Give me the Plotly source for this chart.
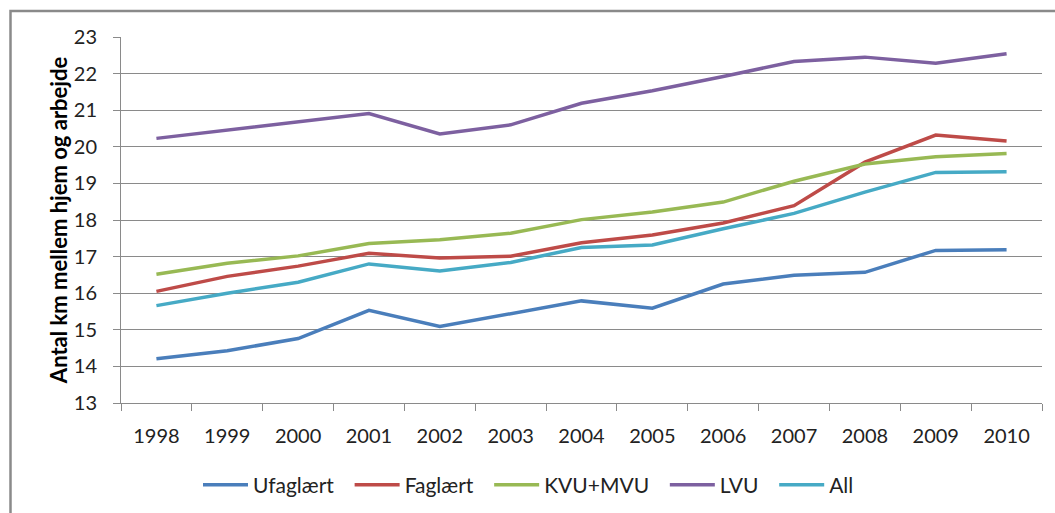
import plotly.graph_objects as go

years = ["1998", "1999", "2000", "2001", "2002", "2003", "2004",
         "2005", "2006", "2007", "2008", "2009", "2010"]

ufaglaert = [14.21, 14.43, 14.76, 15.53, 15.09, 15.43, 15.79, 15.59, 16.25, 16.49, 16.57, 17.17, 17.19]
faglaert = [16.05, 16.46, 16.74, 17.09, 16.96, 17.01, 17.38, 17.59, 17.92, 18.39, 19.58, 20.32, 20.16]
kvu_mvu = [16.52, 16.82, 17.02, 17.36, 17.46, 17.64, 18.01, 18.22, 18.49, 19.06, 19.53, 19.73, 19.82]
lvu = [20.23, 20.46, 20.69, 20.91, 20.35, 20.60, 21.19, 21.53, 21.92, 22.33, 22.45, 22.28, 22.54]
all_ = [15.66, 16.00, 16.30, 16.80, 16.61, 16.84, 17.25, 17.32, 17.76, 18.18, 18.76, 19.30, 19.32]

series = [
    ("Ufaglært", ufaglaert, "#4A7EBB"),
    ("Faglært", faglaert, "#BE4B48"),
    ("KVU+MVU", kvu_mvu, "#98B954"),
    ("LVU", lvu, "#7D60A0"),
    ("All", all_, "#46AAC5"),
]

FONT = "Lato, Open Sans, sans-serif"
PAD = "&nbsp;&nbsp;"

fig = go.Figure()
for name, vals, col in series:
    fig.add_trace(go.Scatter(x=years, y=vals, mode="lines", name=name + PAD,
                             line=dict(color=col, width=3.5)))

W, H = 1055, 513
L, R, T, B = 121, 13, 37, 110
pw, ph = W - L - R, H - T - B

def px(x):
    return (x - L) / pw

def py(y):
    return (H - B - y) / ph

fig.add_shape(type="rect", xref="paper", yref="paper",
              x0=px(10.5), x1=px(1070), y0=py(530), y1=py(11),
              line=dict(color="#8a8a8a", width=2.5), fillcolor="rgba(0,0,0,0)", layer="below")

fig.update_layout(
    width=W, height=H,
    margin=dict(l=L, r=R, t=T, b=B, autoexpand=False),
    paper_bgcolor="white", plot_bgcolor="white",
    font=dict(family=FONT, size=20, color="#222222"),
    showlegend=True,
    legend=dict(orientation="h", x=px(198), xanchor="left", y=py(485), yanchor="middle",
                font=dict(family=FONT, size=21, color="#222222"),
                itemwidth=45, tracegroupgap=0),
    xaxis=dict(type="category", showgrid=False, showline=True, linecolor="#8a8a8a", linewidth=1,
               ticks="outside", tickson="boundaries", ticklen=7, tickcolor="#8a8a8a",
               tickfont=dict(family=FONT, size=20, color="#222222"),
               ticklabelstandoff=15, automargin=False,
               range=[-0.5, 12.5]),
    yaxis=dict(range=[13, 23], dtick=1, showgrid=True, gridcolor="#8a8a8a", gridwidth=1,
               showline=True, linecolor="#8a8a8a", linewidth=1,
               ticks="outside", ticklen=7, tickcolor="#8a8a8a",
               tickfont=dict(family=FONT, size=20, color="#222222"),
               ticklabelstandoff=12, automargin=False,
               zeroline=False,
               title=dict(text="<b>Antal km mellem hjem og arbejde</b>",
                          font=dict(family=FONT, size=22, color="#000000"), standoff=0)),
)

fig.write_html("out.html", config={"displayModeBar": False},
               post_script="document.body.style.margin='0';document.body.style.overflow='hidden';")
